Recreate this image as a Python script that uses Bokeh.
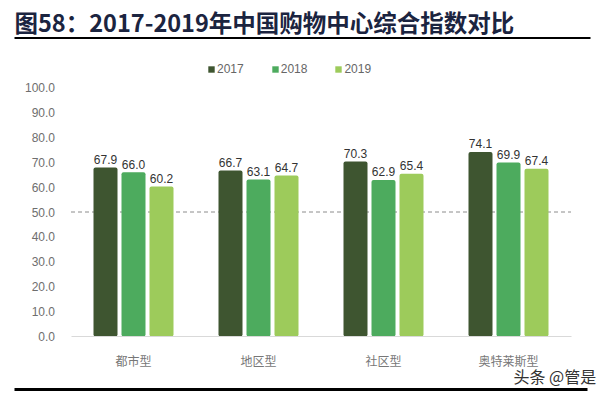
from bokeh.plotting import figure
from bokeh.models import (ColumnDataSource, Range1d, Label, BoxAnnotation, Legend,
                          LegendItem, LinearAxis, FixedTicker, NumeralTickFormatter)
from bokeh.core.properties import value
from bokeh.embed import file_html
from bokeh.resources import INLINE

categories = ["都市型", "地区型", "社区型", "奥特莱斯型"]
years = ["2017", "2018", "2019"]
v2017 = [67.9, 66.7, 70.3, 74.1]
v2018 = [66.0, 63.1, 62.9, 69.9]
v2019 = [60.2, 64.7, 65.4, 67.4]
y_ticks = [0, 10, 20, 30, 40, 50, 60, 70, 80, 90, 100]
ref_line = 50
colors = ["#3e5530", "#4dab5e", "#9dcb5b"]
title_text = "图58：2017-2019年中国购物中心综合指数对比"
watermark = "头条 @管是"

# canvas layout (pixels)
W, H = 607, 396
plot_left, plot_right = 70.5, 570.5   # category span
base_y, top_y = 336, 87               # pixel rows of 0 and 100
n = len(categories)
px_per_cat = (plot_right - plot_left) / n
px_per_unit = (base_y - top_y) / 100.0

x_range = Range1d(-plot_left / px_per_cat, n + (W - plot_right) / px_per_cat)
y_range = Range1d(-(H - base_y) / px_per_unit, 100 + top_y / px_per_unit)

centers = [i + 0.5 for i in range(n)]
src = ColumnDataSource(dict(
    x=centers, v2017=v2017, v2018=v2018, v2019=v2019,
    t2017=[f"{v:.1f}" for v in v2017],
    t2018=[f"{v:.1f}" for v in v2018],
    t2019=[f"{v:.1f}" for v in v2019],
))

p = figure(width=W, height=H, x_range=x_range, y_range=y_range,
           output_backend="svg", toolbar_location=None,
           x_axis_location=None, y_axis_location=None, min_border=0)
p.outline_line_color = None
p.xgrid.grid_line_color = None
p.ygrid.grid_line_color = None

# reference dashed line across the category span
p.segment(x0=[0], y0=[ref_line], x1=[n], y1=[ref_line], line_color="#8c8c8c",
          line_dash="4 3", line_width=1)

offsets = [-0.224, 0.0, 0.224]
renderers = []
for yr, off, col in zip(years, offsets, colors):
    xs = [c + off for c in centers]
    s = ColumnDataSource(dict(x=xs, top=src.data["v" + yr], t=src.data["t" + yr]))
    r = p.vbar(x="x", top="top", width=0.192, source=s, fill_color=col,
               line_color=None, border_radius=2)
    renderers.append(r)
    p.text(x="x", y="top", text="t", source=s, text_align="center",
           text_baseline="alphabetic", y_offset=-8, text_font_size="12px",
           text_color="#333333", text_font=value("Liberation Sans"))

# axes
yaxis = LinearAxis(fixed_location=0, ticker=FixedTicker(ticks=y_ticks),
                   formatter=NumeralTickFormatter(format="0.0"), bounds=(0, 100))
yaxis.axis_line_color = None
yaxis.major_tick_line_color = None
yaxis.minor_tick_line_color = None
yaxis.major_label_text_color = "#6e6e6e"
yaxis.major_label_text_font = "Liberation Sans"
yaxis.major_label_text_font_size = "12px"
yaxis.major_label_standoff = 10
p.add_layout(yaxis, "left")

xaxis = LinearAxis(fixed_location=0, ticker=FixedTicker(ticks=centers),
                   bounds=(0, n),
                   major_label_overrides={c: lab for c, lab in zip(centers, categories)})
xaxis.axis_line_color = "#d9d9d9"
xaxis.major_tick_line_color = None
xaxis.minor_tick_line_color = None
xaxis.major_label_text_color = "#777777"
xaxis.major_label_text_font = "Noto Sans CJK SC"
xaxis.major_label_text_font_size = "12px"
xaxis.major_label_standoff = 9
p.add_layout(xaxis, "below")

legend = Legend(items=[LegendItem(label=yr, renderers=[r]) for yr, r in zip(years, renderers)],
                orientation="horizontal", location=(207, 320),
                glyph_width=8, glyph_height=8, label_height=12, label_standoff=2,
                spacing=27, padding=0, margin=0, border_line_color=None,
                background_fill_alpha=0, label_text_font_size="12px",
                label_text_color="#666666", label_text_font="Liberation Sans")
p.add_layout(legend, "center")

# title, rules and watermark (screen units from the canvas bottom-left)
p.add_layout(Label(x=14, y=375, x_units="screen", y_units="screen", text=title_text,
                   text_font="Noto Sans CJK SC", text_font_style="bold",
                   text_font_size="23.5px", text_color="#1b2440", text_baseline="middle"))
p.add_layout(BoxAnnotation(left=14, right=590, bottom=357.5, top=359.5,
                           left_units="screen", right_units="screen",
                           bottom_units="screen", top_units="screen",
                           fill_color="black", fill_alpha=1, line_color=None))
p.add_layout(BoxAnnotation(left=14, right=587, bottom=5.5, top=8.5,
                           left_units="screen", right_units="screen",
                           bottom_units="screen", top_units="screen",
                           fill_color="black", fill_alpha=1, line_color=None))
p.add_layout(Label(x=513, y=21, x_units="screen", y_units="screen", text=watermark,
                   text_font="Noto Sans CJK SC", text_font_size="16px",
                   text_color="#333333", text_baseline="middle"))

open("out.html", "w").write(file_html(p, INLINE))
